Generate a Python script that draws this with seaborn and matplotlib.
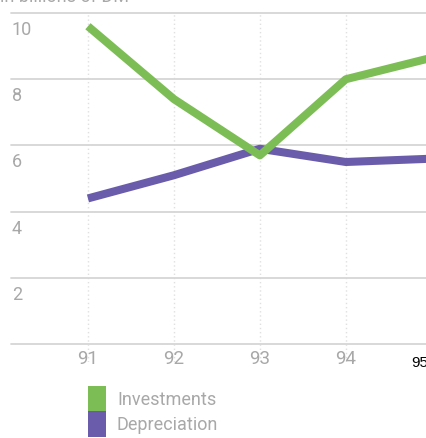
import matplotlib
matplotlib.use("Agg")
import matplotlib.pyplot as plt
import pandas as pd
import seaborn as sns
from matplotlib.patches import Patch
from matplotlib.transforms import ScaledTranslation

# Figures in billions of DM
years = [91, 92, 93, 94, 95]
investments = [9.6, 7.4, 5.7, 8.0, 8.65]
depreciation = [4.4, 5.1, 5.9, 5.5, 5.6]
year_labels = ["91", "92", "93", "94", "95"]
y_ticks = [2, 4, 6, 8, 10]
y_labels = ["2", "4", "6", "8", "10"]
grid_levels = [0, 2, 4, 6, 8, 10]
series_names = ["Investments", "Depreciation"]

GREEN = "#7dbd55"
PURPLE = "#6a5cab"
TEXT_GREY = "#a8a8a8"

sns.set_theme(style="white")
plt.rcParams["font.family"] = ["Roboto", "DejaVu Sans"]

W, H = 427, 438
fig = plt.figure(figsize=(W / 100, H / 100), dpi=100)
ax = fig.add_axes([11 / W, 1 - 362 / H, (449 - 11) / W, (362 - 13) / H])

df = pd.DataFrame({
    "year": years * 2,
    "value": investments + depreciation,
    "series": [series_names[0]] * len(years) + [series_names[1]] * len(years),
})

sns.lineplot(
    data=df, x="year", y="value", hue="series",
    hue_order=[series_names[1], series_names[0]],
    palette={series_names[0]: GREEN, series_names[1]: PURPLE},
    linewidth=5.8, legend=False, ax=ax,
)
for i, line in enumerate(ax.lines):
    line.set_solid_joinstyle("round")
    line.set_solid_capstyle("butt")
    line.set_zorder(3 + i)

ax.set_xlim(90.105, 95.2)
ax.set_ylim(-0.54, 10)

# light horizontal rules and dotted verticals
for v in grid_levels:
    ax.axhline(v, color="#d6d6d6", lw=1.3, zorder=1, clip_on=False)
for yr in years:
    ax.axvline(yr, color="#e0e0e0", lw=1.0, ls=(0, (1, 2)), zorder=0)

for s in ax.spines.values():
    s.set_visible(False)

# y labels sit just below their rules
ax.set_yticks([])
ylab_tr = ax.get_yaxis_transform() + ScaledTranslation(0.01, -0.17, fig.dpi_scale_trans)
for v, lab in zip(y_ticks, y_labels):
    ax.text(0.0, v, lab, transform=ylab_tr, ha="left", va="center",
            fontsize=13, color=TEXT_GREY)

ax.set_xticks(years, year_labels)
ax.tick_params(axis="x", length=0, pad=-8.5, labelsize=13.5, labelcolor=TEXT_GREY)
last = ax.get_xticklabels()[-1]
last.set_color("black")
last.set_fontfamily(["Liberation Sans", "DejaVu Sans"])
last.set_fontsize(11)
last.set_transform(last.get_transform() + ScaledTranslation(-0.12, -0.06, fig.dpi_scale_trans))
ax.set_xlabel("")
ax.set_ylabel("")

fig.text(0.0, 1 - 2 / H, "in billions of DM", ha="left", va="baseline",
         fontsize=13, color=TEXT_GREY)

fs = 13
fs_px = fs * 100 / 72
handles = [Patch(facecolor=GREEN, edgecolor="none"), Patch(facecolor=PURPLE, edgecolor="none")]
fig.legend(
    handles, series_names, loc="upper left",
    bbox_to_anchor=(88 / W, 1 - 386 / H), bbox_transform=fig.transFigure,
    frameon=False, borderpad=0, borderaxespad=0,
    handlelength=18 / fs_px, handleheight=1.79, labelspacing=0,
    handletextpad=11 / fs_px, fontsize=fs, labelcolor=TEXT_GREY,
)

fig.savefig("out.png", dpi=100)
